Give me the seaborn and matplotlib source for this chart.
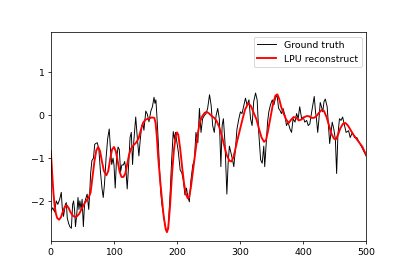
import matplotlib
matplotlib.use('Agg')

import matplotlib.pyplot as plt
import seaborn as sns

# ground truth
gt_x = [0, 3, 6, 8.5, 11, 14, 16.5, 18, 20, 23, 24.5, 26, 28, 30, 32.5, 34.5, 36, 37.5, 39, 41,
        43, 44.5, 46, 48, 49.5, 51.5, 53.5, 56, 57.5, 60, 61.5, 63, 65, 67.5, 69.5, 71, 73.5, 76, 78.5, 81,
        83, 85, 87.5, 90, 92.5, 94.5, 96.5, 98.5, 100, 102, 104, 106.5, 108.5, 110.5, 112.5, 115, 117, 119, 121, 123.5,
        125.5, 127.5, 129.5, 131.5, 134.5, 137, 139.5, 141.5, 144, 146, 147.5, 150.5, 153, 155.5, 158.5, 161, 163.5, 165, 166.5, 168,
        170.5, 172, 174, 176, 178.5, 181, 183.5, 186, 189, 191.5, 194, 196, 197.5, 199.5, 202, 205, 207.5, 210, 212.5, 215,
        217, 219.5, 222, 225, 227.5, 230, 233, 235.5, 238, 240.5, 243.5, 246, 248.5, 251.5, 254, 256.5, 259, 262, 264.5, 267,
        269.5, 271.5, 273.5, 276, 279, 281, 283, 285.5, 288, 290, 292.5, 295, 298, 300.5, 303, 306, 308.5, 311, 314, 316.5,
        319, 321.5, 324.5, 327, 329.5, 332.5, 335, 337.5, 339, 341.5, 343.5, 345.5, 348, 351, 353.5, 356, 358.5, 361, 363, 365.5,
        368, 371, 373.5, 376, 379, 381.5, 384, 387, 389.5, 392, 394.5, 397.5, 400, 402.5, 405.5, 408, 410.5, 413, 416, 417.5,
        419.5, 421, 423, 425, 427, 429, 431, 433, 435, 438, 440, 442, 444, 446, 448.5, 451, 453, 455, 457.5, 460,
        462.5, 465, 468, 472, 474.5, 478, 481.5, 485, 489, 492, 496, 500]
gt_y = [-2.24, -2.16, -2.26, -2.0, -2.08, -1.96, -1.80, -2.16, -2.36, -2.08, -2.04, -2.40, -2.52, -2.60, -2.64, -2.08, -2.00, -2.20, -2.60, -2.32,
        -1.92, -2.20, -2.00, -2.20, -1.96, -2.60, -2.04, -1.92, -1.84, -2.20, -1.84, -1.36, -1.06, -1.00, -0.68, -0.66, -0.64, -0.78, -1.30, -1.70,
        -1.92, -1.60, -1.00, -0.55, -0.32, -0.80, -1.15, -1.00, -1.15, -1.70, -1.04, -0.74, -0.80, -1.32, -1.16, -1.16, -1.08, -1.28, -1.72, -1.10,
        -0.52, -0.40, -1.15, -0.60, -0.04, -0.52, -0.95, -0.60, -0.24, -0.20, -0.35, 0.10, 0.02, -0.15, 0.10, 0.20, 0.42, 0.28, 0.36, 0.00,
        -0.68, -1.20, -1.76, -2.08, -2.32, -2.56, -2.72, -2.64, -1.84, -1.04, -0.38, -0.56, -0.40, -0.60, -0.85, -1.28, -1.34, -1.52, -1.86, -1.70,
        -1.90, -2.02, -1.52, -1.16, -1.04, -0.40, -0.64, 0.16, -0.40, -0.08, 0.00, 0.04, 0.16, 0.48, 0.24, -0.24, -0.40, 0.00, 0.16, -0.08,
        -1.20, -0.24, -0.08, -0.64, -1.84, -1.12, -0.72, -0.88, -1.04, -1.20, -0.80, -0.32, -0.08, 0.08, 0.04, 0.24, 0.40, 0.24, 0.36, -0.08,
        -0.24, 0.32, 0.52, 0.36, -0.40, -1.04, -1.12, -0.72, -1.20, -0.64, -0.16, 0.08, 0.24, 0.36, 0.24, 0.40, 0.48, 0.16, 0.12, 0.04,
        0.16, 0.00, -0.24, -0.16, -0.32, -0.40, -0.08, -0.16, 0.04, -0.08, 0.20, -0.08, -0.04, -0.16, -0.12, -0.24, -0.20, 0.04, 0.30, 0.44,
        0.08, -0.08, -0.40, -0.08, 0.30, 0.20, 0.08, 0.32, 0.38, 0.20, -0.24, -0.66, -0.40, -0.16, -0.32, -0.56, -1.36, -0.46, -0.08, -0.12,
        -0.04, -0.20, -0.40, -0.36, -0.52, -0.40, -0.52, -0.52, -0.64, -0.72, -0.84, -0.96]

# LPU reconstruction
rec_x = [0, 2, 4, 6, 8, 10, 13, 16, 19, 22, 25, 28, 31, 35, 40, 45, 50, 55, 60, 63,
         66, 69, 72, 75, 78, 81, 84, 88, 91, 94, 97, 100, 103, 106, 109, 112, 115, 118, 121, 124,
         127, 131, 135, 139, 142, 146, 150, 155, 160, 164, 166, 168, 170, 173, 176, 179, 182, 184, 186, 189,
         192, 195, 198, 200, 202, 205, 208, 211, 214, 217, 219, 222, 225, 228, 232, 236, 240, 244, 247, 251,
         255, 259, 263, 267, 271, 275, 279, 283, 286, 289, 292, 296, 300, 304, 308, 313, 317, 321, 326, 330,
         334, 338, 341, 344, 348, 352, 356, 359, 362, 365, 369, 373, 377, 381, 385, 389, 393, 397, 401, 405,
         409, 413, 417, 421, 425, 429, 433, 437, 441, 445, 449, 452, 455, 459, 463, 467, 471, 475, 479, 482,
         486, 490, 494, 497, 500]
rec_y = [-0.84, -1.35, -1.80, -2.12, -2.30, -2.40, -2.44, -2.38, -2.25, -2.14, -2.10, -2.16, -2.26, -2.35, -2.38, -2.30, -2.15, -2.02, -1.92, -1.80,
         -1.45, -1.08, -0.82, -0.74, -0.84, -1.08, -1.30, -1.40, -1.30, -1.02, -0.80, -0.74, -0.84, -1.08, -1.32, -1.44, -1.44, -1.36, -1.14, -0.92,
         -0.78, -0.70, -0.64, -0.54, -0.38, -0.18, -0.10, -0.08, -0.05, -0.06, -0.18, -0.50, -0.96, -1.48, -1.95, -2.38, -2.66, -2.73, -2.64, -2.10,
         -1.38, -0.82, -0.48, -0.40, -0.46, -0.78, -1.20, -1.58, -1.84, -1.94, -1.92, -1.68, -1.32, -0.98, -0.52, -0.16, -0.02, 0.06, 0.08, 0.04,
         -0.02, -0.06, -0.14, -0.28, -0.48, -0.72, -0.94, -1.06, -1.08, -1.00, -0.82, -0.56, -0.32, -0.08, 0.14, 0.28, 0.22, 0.08, -0.10, -0.32,
         -0.52, -0.62, -0.58, -0.38, -0.06, 0.26, 0.46, 0.49, 0.38, 0.20, 0.04, -0.10, -0.18, -0.10, -0.04, -0.06, -0.12, -0.10, -0.05, -0.02,
         -0.02, -0.06, -0.06, -0.02, 0.06, 0.12, 0.10, -0.04, -0.24, -0.44, -0.55, -0.56, -0.46, -0.30, -0.20, -0.18, -0.24, -0.34, -0.44, -0.50,
         -0.58, -0.66, -0.74, -0.84, -0.92]

fig, ax = plt.subplots(figsize=(6, 4), dpi=67.83)

sns.lineplot(x=gt_x, y=gt_y, color='black', linewidth=1, label='Ground truth', ax=ax)
sns.lineplot(x=rec_x, y=rec_y, color='red', linewidth=2, label='LPU reconstruct', ax=ax)

ax.set_xlim(0, 500)
ax.set_ylim(-2.94, 1.94)
ax.set_yticks([-2, -1, 0, 1])
ax.legend(loc='upper right')

plt.savefig('out.png', dpi=67.83)
plt.close()
